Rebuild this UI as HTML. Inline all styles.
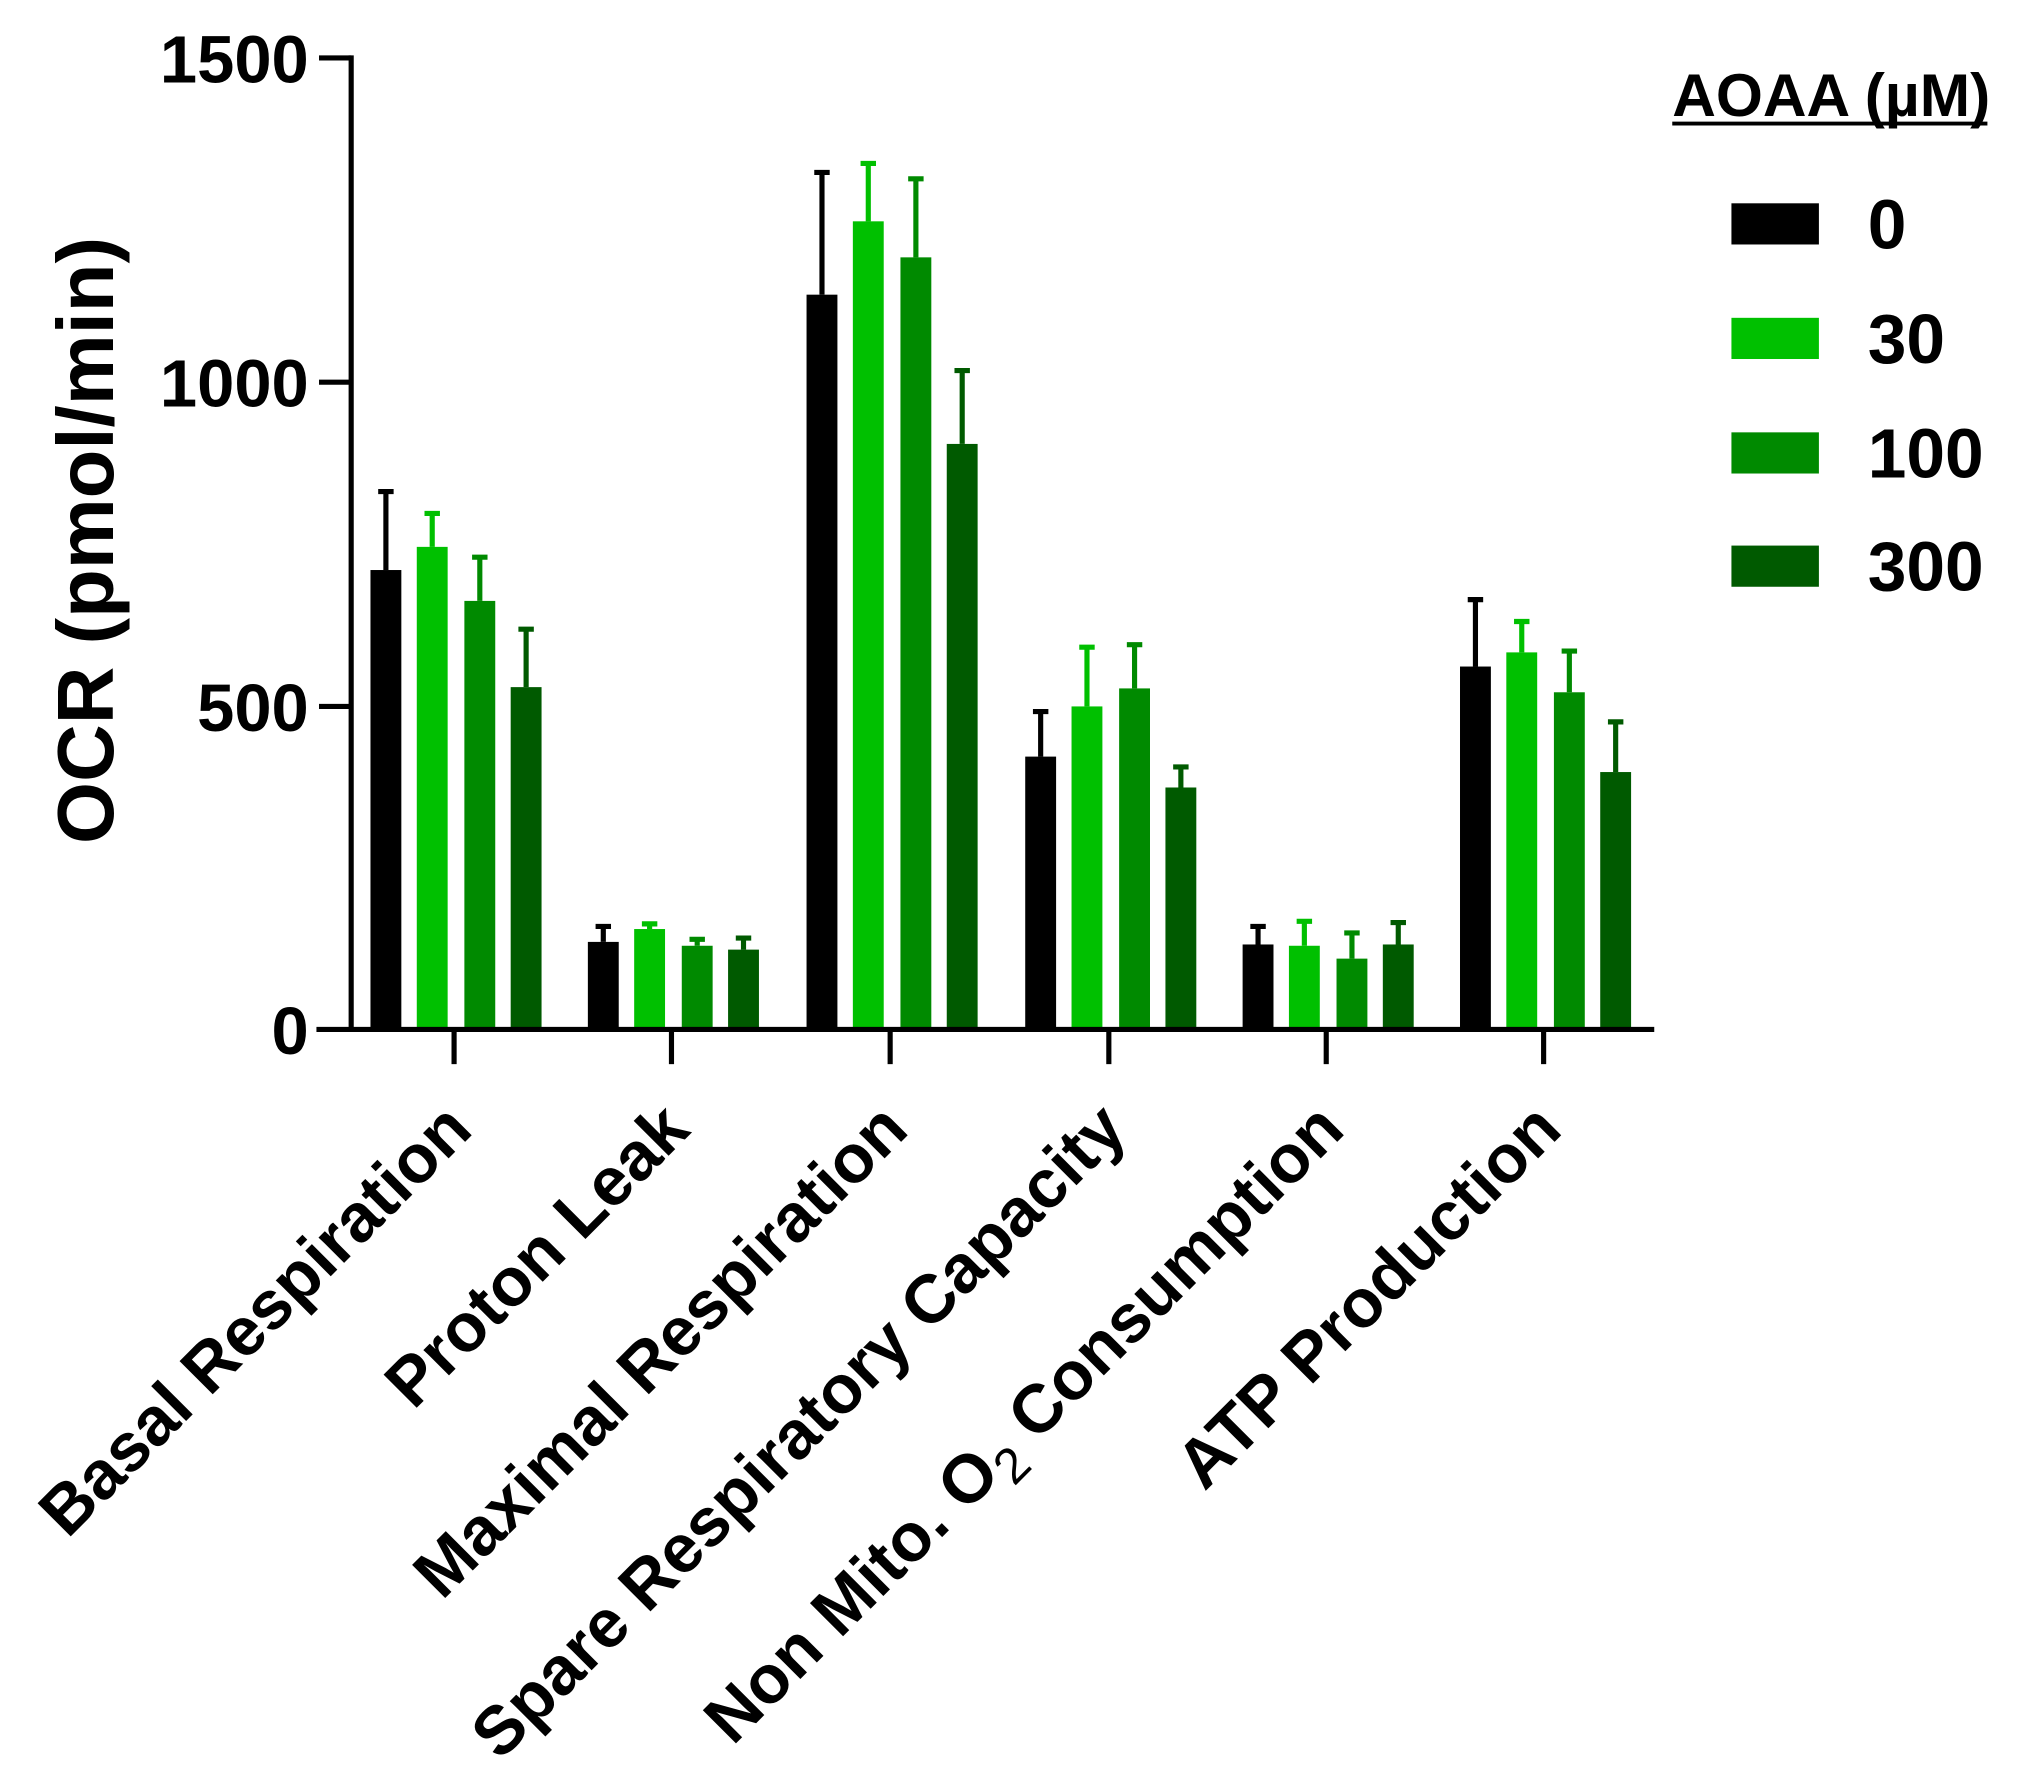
<!DOCTYPE html>
<html><head><meta charset="utf-8"><style>html,body{margin:0;padding:0;background:#fff}svg{display:block}</style></head>
<body>
<svg width="2017" height="1777" viewBox="0 0 1568 1381" preserveAspectRatio="none" xmlns="http://www.w3.org/2000/svg" font-family="Liberation Sans, sans-serif" font-weight="bold">
<g fill="#000" stroke="#000" stroke-width="4">
<rect x="288" y="443" width="24" height="357" stroke="none"/><path d="M300 443V382M294 382H306" fill="none"/>
<rect x="457" y="732" width="24" height="68" stroke="none"/><path d="M469 732V720M463 720H475" fill="none"/>
<rect x="627" y="229" width="24" height="571" stroke="none"/><path d="M639 229V134M633 134H645" fill="none"/>
<rect x="797" y="588" width="24" height="212" stroke="none"/><path d="M809 588V553M803 553H815" fill="none"/>
<rect x="966" y="734" width="24" height="66" stroke="none"/><path d="M978 734V720M972 720H984" fill="none"/>
<rect x="1135" y="518" width="24" height="282" stroke="none"/><path d="M1147 518V466M1141 466H1153" fill="none"/>
</g>
<g fill="#00c000" stroke="#00c000" stroke-width="4">
<rect x="324" y="425" width="24" height="375" stroke="none"/><path d="M336 425V399M330 399H342" fill="none"/>
<rect x="493" y="722" width="24" height="78" stroke="none"/><path d="M505 722V718M499 718H511" fill="none"/>
<rect x="663" y="172" width="24" height="628" stroke="none"/><path d="M675 172V127M669 127H681" fill="none"/>
<rect x="833" y="549" width="24" height="251" stroke="none"/><path d="M845 549V503M839 503H851" fill="none"/>
<rect x="1002" y="735" width="24" height="65" stroke="none"/><path d="M1014 735V716M1008 716H1020" fill="none"/>
<rect x="1171" y="507" width="24" height="293" stroke="none"/><path d="M1183 507V483M1177 483H1189" fill="none"/>
</g>
<g fill="#008a00" stroke="#008a00" stroke-width="4">
<rect x="361" y="467" width="24" height="333" stroke="none"/><path d="M373 467V433M367 433H379" fill="none"/>
<rect x="530" y="735" width="24" height="65" stroke="none"/><path d="M542 735V730M536 730H548" fill="none"/>
<rect x="700" y="200" width="24" height="600" stroke="none"/><path d="M712 200V139M706 139H718" fill="none"/>
<rect x="870" y="535" width="24" height="265" stroke="none"/><path d="M882 535V501M876 501H888" fill="none"/>
<rect x="1039" y="745" width="24" height="55" stroke="none"/><path d="M1051 745V725M1045 725H1057" fill="none"/>
<rect x="1208" y="538" width="24" height="262" stroke="none"/><path d="M1220 538V506M1214 506H1226" fill="none"/>
</g>
<g fill="#005a00" stroke="#005a00" stroke-width="4">
<rect x="397" y="534" width="24" height="266" stroke="none"/><path d="M409 534V489M403 489H415" fill="none"/>
<rect x="566" y="738" width="24" height="62" stroke="none"/><path d="M578 738V729M572 729H584" fill="none"/>
<rect x="736" y="345" width="24" height="455" stroke="none"/><path d="M748 345V288M742 288H754" fill="none"/>
<rect x="906" y="612" width="24" height="188" stroke="none"/><path d="M918 612V596M912 596H924" fill="none"/>
<rect x="1075" y="734" width="24" height="66" stroke="none"/><path d="M1087 734V717M1081 717H1093" fill="none"/>
<rect x="1244" y="600" width="24" height="200" stroke="none"/><path d="M1256 600V561M1250 561H1262" fill="none"/>
</g>
<g stroke="#000" stroke-width="4" fill="none">
<line x1="273" y1="43" x2="273" y2="802"/>
<line x1="246" y1="800" x2="1286" y2="800"/>
<line x1="248" y1="45" x2="273" y2="45"/>
<line x1="248" y1="297" x2="273" y2="297"/>
<line x1="248" y1="549" x2="273" y2="549"/>
<line x1="353" y1="800" x2="353" y2="827"/>
<line x1="522" y1="800" x2="522" y2="827"/>
<line x1="692" y1="800" x2="692" y2="827"/>
<line x1="862" y1="800" x2="862" y2="827"/>
<line x1="1031" y1="800" x2="1031" y2="827"/>
<line x1="1200" y1="800" x2="1200" y2="827"/>
</g>
<g font-size="52" text-anchor="end">
<text x="240" y="64">1500</text>
<text x="240" y="316">1000</text>
<text x="240" y="568">500</text>
<text x="240" y="819">0</text>
</g>
<text transform="translate(88,420) rotate(-90)" font-size="62" text-anchor="middle">OCR (pmol/min)</text>
<g font-size="53" text-anchor="end">
<text transform="translate(369,880) rotate(-45)">Basal Respiration</text>
<text transform="translate(538,880) rotate(-45)">Proton Leak</text>
<text transform="translate(708,880) rotate(-45)">Maximal Respiration</text>
<text transform="translate(878,880) rotate(-45)">Spare Respiratory Capacity</text>
<text transform="translate(1047,880) rotate(-45)">Non Mito. O<tspan font-weight="normal" font-size="39" dy="12">2</tspan><tspan dy="-12"> Consumption</tspan></text>
<text transform="translate(1216,880) rotate(-45)">ATP Production</text>
</g>
<text x="1300" y="90" font-size="47">AOAA (µM)</text>
<line x1="1300" y1="96" x2="1545" y2="96" stroke="#000" stroke-width="3"/>
<rect x="1346" y="158" width="68" height="32" fill="#000"/>
<rect x="1346" y="247" width="68" height="32" fill="#00c000"/>
<rect x="1346" y="336" width="68" height="32" fill="#008a00"/>
<rect x="1346" y="424" width="68" height="32" fill="#005a00"/>
<g font-size="54">
<text x="1452" y="193">0</text>
<text x="1452" y="282">30</text>
<text x="1452" y="371">100</text>
<text x="1452" y="459">300</text>
</g>
</svg>
</body></html>
